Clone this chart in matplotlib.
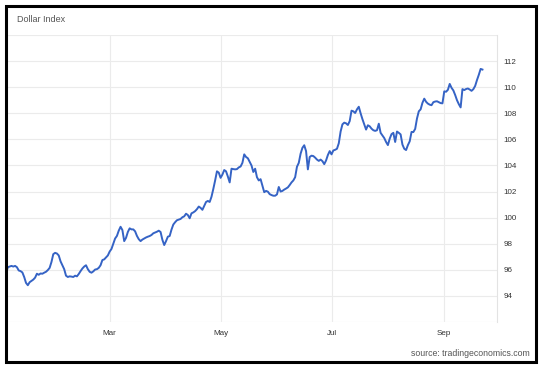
import numpy as np
import pandas as pd
import matplotlib
matplotlib.use("Agg")
import matplotlib.pyplot as plt
import matplotlib.dates as mdates
from matplotlib.patches import Rectangle

plt.rcParams["font.family"] = ["Liberation Sans", "DejaVu Sans"]

# Dollar Index, daily readings from 2022-01-03 to 2022-09-22
start_date = "2022-01-03"
values = [
    95.7, 96.2, 96.25, 96.3, 96.25, 96.3, 96.2, 95.95, 95.9, 95.8,
    95.45, 95.0, 94.82, 95.05, 95.15, 95.25, 95.4, 95.7, 95.62, 95.72,
    95.7, 95.78, 95.85, 95.98, 96.15, 96.6, 97.2, 97.3, 97.25, 97.1,
    96.65, 96.35, 96.05, 95.55, 95.45, 95.5, 95.48, 95.45, 95.55, 95.5,
    95.68, 95.9, 96.1, 96.25, 96.35, 96.05, 95.85, 95.78, 95.88, 96.02,
    96.05, 96.15, 96.35, 96.75, 96.8, 96.95, 97.1, 97.4, 97.6, 98.0,
    98.4, 98.6, 99.0, 99.3, 99.05, 98.2, 98.45, 98.9, 99.18, 99.1,
    99.1, 98.95, 98.6, 98.35, 98.2, 98.32, 98.4, 98.48, 98.54, 98.59,
    98.67, 98.8, 98.86, 98.92, 99.0, 98.9, 98.3, 97.9, 98.2, 98.54,
    98.59, 99.08, 99.47, 99.65, 99.8, 99.85, 99.9, 100.03, 100.1, 100.3,
    100.2, 99.95, 100.33, 100.4, 100.5, 100.65, 100.85, 100.75, 100.6, 100.9,
    101.2, 101.28, 101.2, 101.6, 102.2, 102.85, 103.55, 103.45, 103.05, 103.3,
    103.65, 103.55, 103.15, 102.7, 103.75, 103.72, 103.7, 103.72, 103.85, 103.92,
    104.2, 104.85, 104.65, 104.55, 104.28, 104.0, 103.5, 103.75, 103.1, 102.85,
    102.95, 102.45, 101.95, 102.05, 101.99, 101.8, 101.73, 101.68, 101.68, 101.78,
    102.35, 102.0, 102.05, 102.15, 102.23, 102.32, 102.5, 102.7, 102.85, 103.1,
    103.9, 104.2, 104.9, 105.35, 105.55, 105.1, 103.7, 104.65, 104.75, 104.72,
    104.6, 104.45, 104.35, 104.45, 104.33, 104.1, 104.38, 104.8, 105.1, 104.85,
    105.15, 105.2, 105.28, 105.7, 106.6, 107.15, 107.28, 107.23, 107.1, 107.4,
    108.2, 108.15, 108.02, 108.3, 108.5, 108.0, 107.55, 107.15, 106.75, 107.08,
    107.0, 106.82, 106.7, 106.65, 106.7, 107.2, 106.5, 106.3, 106.1, 105.8,
    105.56, 106.05, 106.4, 106.5, 105.8, 106.6, 106.5, 106.38, 105.6, 105.28,
    105.18, 105.56, 105.85, 106.57, 106.56, 106.8, 107.6, 108.15, 108.3, 108.8,
    109.12, 108.88, 108.74, 108.66, 108.62, 108.85, 108.9, 108.92, 108.85, 108.78,
    108.76, 109.68, 109.65, 109.8, 110.25, 109.95, 109.75, 109.4, 109.0, 108.7,
    108.45, 109.85, 109.78, 109.86, 109.9, 109.82, 109.72, 109.85, 110.1, 110.55,
    110.95, 111.4, 111.35,
]
dates = pd.date_range(start_date, periods=len(values), freq="D")

x_ticks = ["2022-03-01", "2022-05-01", "2022-07-01", "2022-09-01"]
x_labels = ["Mar", "May", "Jul", "Sep"]
y_grid = list(range(92, 115, 2))
y_labels = ["" if v in (92, 114) else str(v) for v in y_grid]

W, H = 546, 368
fig = plt.figure(figsize=(W / 100, H / 100), dpi=100)
fig.patch.set_facecolor("white")

# plot area in pixels: x 6..497, y 35..322
ax = fig.add_axes([6 / W, 1 - 322 / H, (497 - 6) / W, (322 - 35) / H])
ax.plot(dates, values, color="#3563c5", lw=1.4, solid_joinstyle="round")

ax.set_xlim(pd.Timestamp("2022-01-03"), pd.Timestamp("2022-09-30"))
ax.set_ylim(92, 114)
ax.set_xticks(pd.to_datetime(x_ticks))
ax.set_xticklabels(x_labels)
ax.set_yticks(y_grid)
ax.set_yticklabels(y_labels)
ax.yaxis.tick_right()

ax.grid(True, color="#ebebeb", lw=0.8)
ax.set_axisbelow(True)
for s in ["left", "top", "bottom"]:
    ax.spines[s].set_visible(False)
ax.spines["right"].set_color("#e3e3e3")
ax.spines["right"].set_linewidth(0.8)
ax.tick_params(axis="both", length=0, labelsize=5.8, colors="#333333")
ax.tick_params(axis="x", pad=6)
ax.tick_params(axis="y", pad=4.5)

fig.text(17 / W, 1 - 20 / H, "Dollar Index", fontsize=6.5, color="#555555", va="center", ha="left")
fig.text(530 / W, 1 - 354 / H, "source: tradingeconomics.com", fontsize=6.3, color="#555555",
         va="center", ha="right")

# black frame around the whole chart
fig.add_artist(Rectangle((6 / W, 1 - 361.5 / H), (535.5 - 6) / W, (361.5 - 6) / H,
                         transform=fig.transFigure, fill=False, edgecolor="black", lw=2.2))

fig.savefig("out.png", dpi=100)
